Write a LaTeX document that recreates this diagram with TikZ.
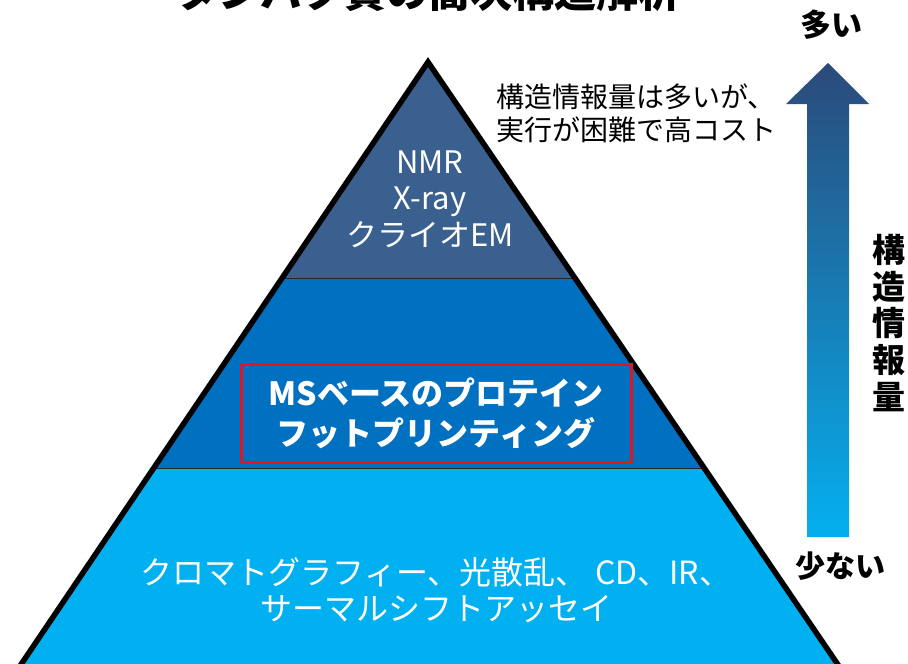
\documentclass[tikz,border=0pt]{standalone}
\usepackage{fontspec}
\setmainfont{Noto Sans CJK JP}
\usetikzlibrary{calc}
\definecolor{topL}{HTML}{3A6090}
\definecolor{midL}{HTML}{0070C0}
\definecolor{botL}{HTML}{00B0F0}
\definecolor{arrTop}{HTML}{2B4A7A}
\definecolor{arrBot}{HTML}{05AFEF}
\definecolor{boxRed}{HTML}{E8141C}
\tikzset{
  layertext/.style={text=white, align=center, inner sep=0pt, font=\fontsize{31}{36.5}\selectfont},
  blacklabel/.style={text=black, inner sep=0pt, font=\bfseries\fontsize{31}{36}\selectfont},
  outline/.style={draw=black, line width=5.5pt, line join=miter},
  divider/.style={draw=black!85, line width=1pt},
}
\begin{document}
\begin{tikzpicture}[x=1pt,y=-1pt]
\useasboundingbox (0,0) rectangle (908,664);
% pyramid corners
\coordinate (apex) at (428,62);
\coordinate (bl) at (-3,700);
\coordinate (br) at (862,700);
% layers
\begin{scope}
  \clip (apex) -- (br) -- (bl) -- cycle;
  \fill[topL] (-20,0) rectangle (930,278);
  \fill[midL] (-20,278) rectangle (930,468);
  \fill[botL] (-20,468) rectangle (930,720);
  \draw[divider] (-20,278) -- (930,278);
  \draw[divider] (-20,468) -- (930,468);
\end{scope}
\draw[outline] (bl) -- (apex) -- (br);
% title (cut off at the top, as in the reference)
\node[inner sep=0pt, font=\bfseries\fontsize{42}{48}\selectfont] (title) at (428,-8) {タンパク質の高次構造解析};
% layer texts
\node[layertext] (top) at (430,199) {NMR\\X-ray\\クライオEM};
\node[draw=boxRed, line width=3pt, minimum width=390pt, minimum height=98pt, inner sep=0pt,
      text=white, align=center, font=\bfseries\fontsize{32}{40}\selectfont] (ms) at (436,413)
      {MSベースのプロテイン\\フットプリンティング};
\node[layertext, font=\fontsize{32}{36}\selectfont] (bottom) at (436,590)
      {クロマトグラフィー、光散乱、 CD、IR、\\サーマルシフトアッセイ};
% annotation
\node[anchor=west, align=left, inner sep=0pt, font=\fontsize{28}{33}\selectfont] (note) at (496,113)
      {構造情報量は多いが、\\実行が困難で高コスト};
% arrow
\shade[top color=arrTop, bottom color=arrBot]
  (807,537) -- (807,104) -- (786,104) -- (828,63) -- (869,104) -- (849,104) -- (849,537) -- cycle;
\node[blacklabel] (many) at (831,25) {多い};
\node[blacklabel, font=\bfseries\fontsize{30}{36}\selectfont] (few) at (840,566) {少ない};
\node[blacklabel, align=center, font=\bfseries\fontsize{33}{36.6}\selectfont] (vert) at (889,323)
      {構\\造\\情\\報\\量};
\end{tikzpicture}
\end{document}
